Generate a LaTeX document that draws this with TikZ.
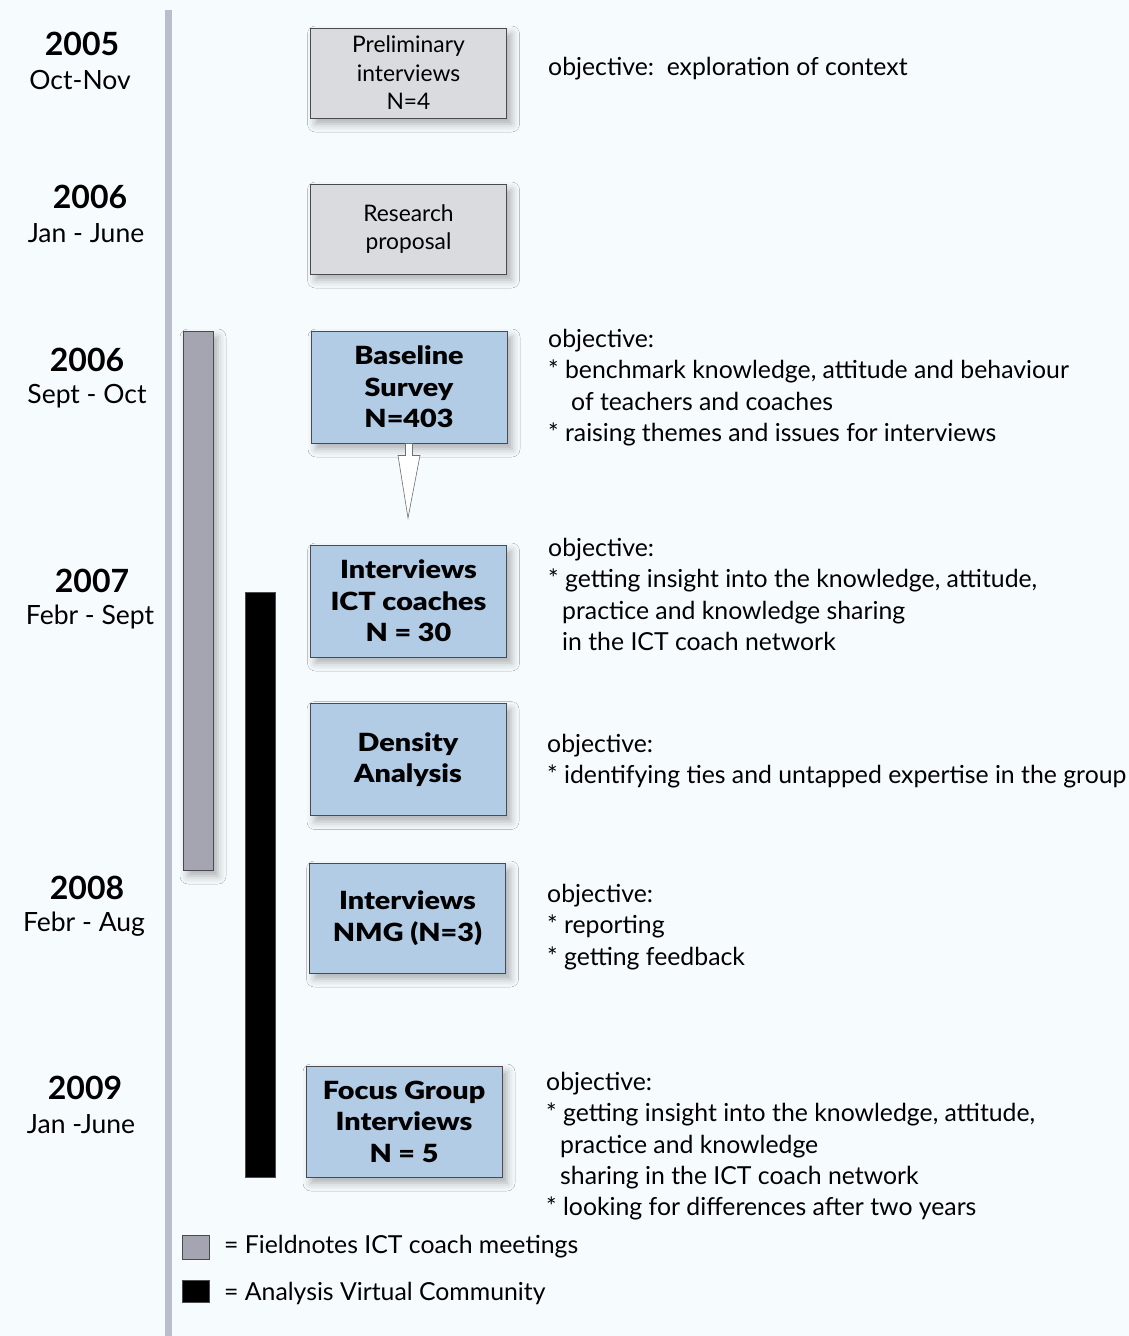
\documentclass[tikz,border=0pt]{standalone}
\usepackage{fontspec}
\setmainfont{Lato}
\newfontfamily\heavyfont{Lato Black}[FakeStretch=1.15]
\usetikzlibrary{shadows.blur}
\definecolor{pagebg}{HTML}{F6FBFD}
\definecolor{axisline}{HTML}{BABDCB}
\definecolor{greyfill}{HTML}{D9DBDE}
\definecolor{bluefill}{HTML}{B3CCE6}
\definecolor{greybar}{HTML}{A5A5B1}
\definecolor{edge}{HTML}{4A4A50}
\tikzset{
  soft/.style={blur shadow={shadow xshift=5pt, shadow yshift=-6pt, shadow blur radius=8pt, shadow opacity=30}},
  box/.style={draw=edge, line width=0.9pt, minimum width=196pt, align=center, inner sep=0pt, soft},
  greybox/.style={box, fill=greyfill, minimum height=90pt, font=\fontsize{22.8}{28.5}\selectfont},
  bluebox/.style={box, fill=bluefill, minimum height=112pt, font=\fontsize{25}{31.5}\heavyfont},
  year/.style={font=\fontsize{32}{33}\selectfont\bfseries, inner sep=0pt},
  months/.style={font=\fontsize{26.5}{28}\selectfont, inner sep=0pt},
  note/.style={anchor=north west, font=\fontsize{24.8}{31.3}\selectfont, align=left, inner sep=0pt},
  bar/.style={draw=edge, line width=0.6pt, minimum width=30pt, inner sep=0pt},
  legend/.style={anchor=west, font=\fontsize{24.8}{27}\selectfont, inner sep=0pt},
}
\begin{document}
\begin{tikzpicture}[x=1pt, y=-1pt]
  \fill[pagebg] (0,0) rectangle (1129,1336);
  \useasboundingbox (0,0) rectangle (1129,1336);

  % time axis
  \fill[axisline] (165,10) rectangle (172,1336);

  % activity bars
  \node[bar, fill=greybar, minimum height=539pt, soft] (fieldbar) at (198,600.5) {};
  \node[bar, fill=black, minimum height=585pt] (vcbar) at (260,884.5) {};

  % periods
  \node[year]   (y1) at (82,44)   {2005};
  \node[months] (m1) at (80,80)   {Oct-Nov};
  \node[year]   (y2) at (90,197)  {2006};
  \node[months] (m2) at (86,233)  {Jan - June};
  \node[year]   (y3) at (87,360)  {2006};
  \node[months] (m3) at (87,396)  {Sept - Oct};
  \node[year]   (y4) at (92,581)  {2007};
  \node[months] (m4) at (90,617)  {Febr - Sept};
  \node[year]   (y5) at (87,888)  {2008};
  \node[months] (m5) at (84,924)  {Febr - Aug};
  \node[year]   (y6) at (85,1088) {2009};
  \node[months] (m6) at (81,1124) {Jan -June};

  % research steps
  \node[greybox] (prelim)   at (408.5,73)    {Preliminary\\interviews\\N=4};
  \node[greybox] (proposal) at (408.5,229)   {Research\\proposal};
  \node[bluebox] (baseline) at (409,387)     {Baseline\\Survey\\N=403};
  \node[bluebox] (ictint)   at (408.5,601)   {Interviews\\ICT coaches\\N = 30};
  \node[bluebox] (density)  at (408,759.5)   {Density\\Analysis};
  \node[bluebox, minimum height=110pt] (nmg) at (407.5,918) {Interviews\\NMG (N=3)};
  \node[bluebox, minimum height=111pt] (focus) at (404,1121.5) {Focus Group\\Interviews\\N = 5};

  % hollow arrow below the baseline survey
  \coordinate (tip) at (408,518);
  \filldraw[fill=white, draw=edge!80, line width=0.6pt]
    ([xshift=-3.5pt]baseline.south) -- ([xshift=3.5pt]baseline.south)
    -- ([xshift=3.5pt, yshift=-12pt]baseline.south) -- ([xshift=11pt, yshift=-12pt]baseline.south)
    -- (tip)
    -- ([xshift=-11pt, yshift=-12pt]baseline.south) -- ([xshift=-3.5pt, yshift=-12pt]baseline.south)
    -- cycle;

  % objectives
  \node[note, anchor=base west] (o1) at (548,75) {objective:\ \ exploration of context};
  \node[note] (o3) at (548,329)
    {objective:\\* benchmark knowledge, attitude and behaviour\\\hspace*{23pt}of teachers and coaches\\* raising themes and issues for interviews};
  \node[note] (o4) at (548,538)
    {objective:\\* getting insight into the knowledge, attitude,\\\hspace*{14pt}practice and knowledge sharing\\\hspace*{14pt}in the ICT coach network};
  \node[note] (o5) at (547,734)
    {objective:\\* identifying ties and untapped expertise in the group};
  \node[note] (o6) at (547,884)
    {objective:\\* reporting\\* getting feedback};
  \node[note] (o7) at (546,1072)
    {objective:\\* getting insight into the knowledge, attitude,\\\hspace*{14pt}practice and knowledge\\\hspace*{14pt}sharing in the ICT coach network\\* looking for differences after two years};

  % legend
  \node[bar, fill=greybar, minimum width=27pt, minimum height=24pt] (k1) at (195.5,1247) {};
  \node[legend] (l1) at (224,1247) {= Fieldnotes ICT coach meetings};
  \node[bar, fill=black, minimum width=27pt, minimum height=22pt] (k2) at (195.5,1291) {};
  \node[legend] (l2) at (224,1293) {= Analysis Virtual Community};
\end{tikzpicture}
\end{document}
